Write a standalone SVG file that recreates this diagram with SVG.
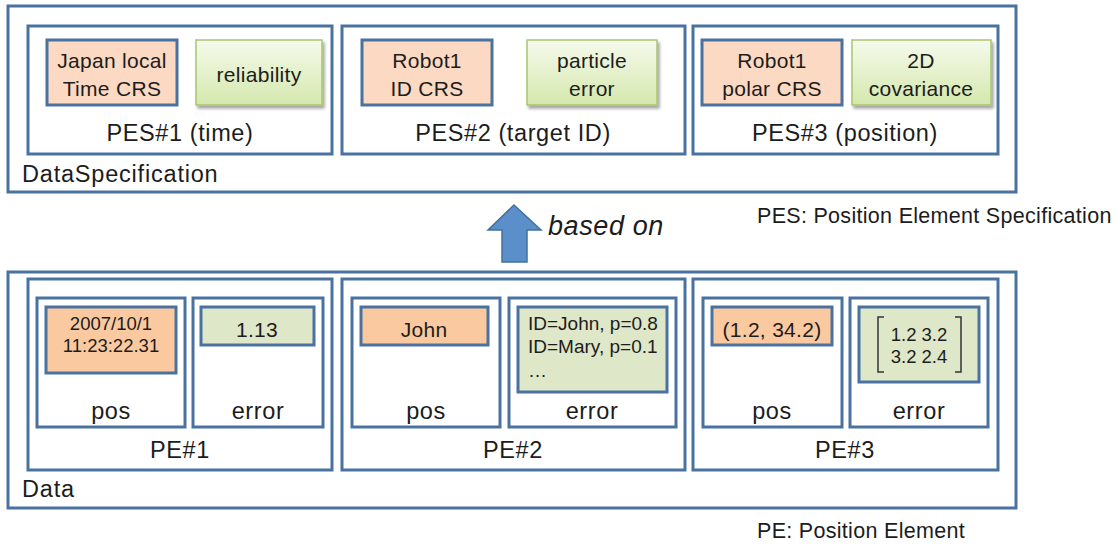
<svg xmlns="http://www.w3.org/2000/svg" width="1117" height="549" viewBox="0 0 1117 549">
  <style>
    .frame { fill: #ffffff; stroke: #4a72a0; stroke-width: 3; }
    .crs { fill: #fcd9c2; stroke: #4a72a0; stroke-width: 3; }
    .err { fill: url(#greenGrad); stroke: #a8c66c; stroke-width: 1.5; filter: url(#shadow); }
    .val { fill: #fac99f; stroke: #4a72a0; stroke-width: 3; }
    .valg { fill: #dfe7c9; stroke: #4a72a0; stroke-width: 3; }
    text { font-family: "Liberation Sans", Arial, sans-serif; fill: #1c1c1c; }
    .lbl { font-size: 23.5px; text-anchor: middle; letter-spacing: 0.6px; }
    .title { font-size: 23.5px; letter-spacing: 0.8px; }
    .in { font-size: 21px; text-anchor: middle; letter-spacing: 0.3px; }
    .sm { font-size: 18.5px; letter-spacing: 0; }
    .note { font-size: 21.5px; letter-spacing: 0.3px; }
  </style>
  <defs>
    <linearGradient id="greenGrad" x1="0" y1="0" x2="0" y2="1">
      <stop offset="0" stop-color="#f5faec"/>
      <stop offset="1" stop-color="#d5e8ad"/>
    </linearGradient>
    <filter id="shadow" x="-10%" y="-10%" width="125%" height="130%">
      <feDropShadow dx="2" dy="3" stdDeviation="1.8" flood-color="#000" flood-opacity="0.35"/>
    </filter>
  </defs>

  <!-- Specification side -->
  <g id="dataSpecification">
    <rect class="frame" x="8" y="6" width="1008" height="186"/>
    <text class="title" x="22" y="182">DataSpecification</text>
  </g>
  <g id="pes1">
    <rect class="frame" x="28" y="26" width="304" height="128"/>
    <rect class="crs" x="47" y="40" width="130" height="65"/>
    <text class="in" x="112" y="68">Japan local</text>
    <text class="in" x="112" y="96">Time CRS</text>
    <rect class="err" x="196" y="40" width="126" height="65"/>
    <text class="in" x="259" y="82">reliability</text>
    <text class="lbl" x="180" y="141">PES#1 (time)</text>
  </g>
  <g id="pes2">
    <rect class="frame" x="342" y="26" width="343" height="128"/>
    <rect class="crs" x="362" y="40" width="130" height="65"/>
    <text class="in" x="427" y="68">Robot1</text>
    <text class="in" x="427" y="96">ID CRS</text>
    <rect class="err" x="527" y="40" width="130" height="65"/>
    <text class="in" x="592" y="68">particle</text>
    <text class="in" x="592" y="96">error</text>
    <text class="lbl" x="513" y="141">PES#2 (target ID)</text>
  </g>
  <g id="pes3">
    <rect class="frame" x="693" y="26" width="305" height="128"/>
    <rect class="crs" x="702" y="40" width="140" height="65"/>
    <text class="in" x="772" y="68">Robot1</text>
    <text class="in" x="772" y="96">polar CRS</text>
    <rect class="err" x="852" y="40" width="139" height="65"/>
    <text class="in" x="921" y="68">2D</text>
    <text class="in" x="921" y="96">covariance</text>
    <text class="lbl" x="845" y="141">PES#3 (position)</text>
  </g>
  <g id="pesNote">
    <text class="note" x="757" y="223">PES: Position Element Specification</text>
  </g>

  <!-- Relation between data and its specification -->
  <g id="connectors">
    <polygon points="514,205 541,230 527,230 527,262 502,262 502,230 488,230" fill="#5b8fc9" stroke="#41719c" stroke-width="1.5" stroke-linejoin="miter"/>
    <text x="548" y="235" style="font-size:27px;font-style:italic;letter-spacing:0.6px">based on</text>
  </g>

  <!-- Data side -->
  <g id="data">
    <rect class="frame" x="8" y="272" width="1008" height="236"/>
    <text class="title" x="22" y="497">Data</text>
  </g>
  <g id="pe1">
    <rect class="frame" x="28" y="279" width="304" height="191"/>
    <rect class="frame" x="37" y="298" width="148" height="129"/>
    <rect class="val" x="46" y="307" width="130" height="66"/>
    <text class="in sm" x="111" y="330">2007/10/1</text>
    <text class="in sm" x="111" y="352">11:23:22.31</text>
    <text class="lbl" x="111" y="419">pos</text>
    <rect class="frame" x="193" y="298" width="130" height="129"/>
    <rect class="valg" x="201" y="307" width="113" height="38"/>
    <text class="in" x="257" y="337">1.13</text>
    <text class="lbl" x="258" y="419">error</text>
    <text class="lbl" x="180" y="458">PE#1</text>
  </g>
  <g id="pe2">
    <rect class="frame" x="342" y="279" width="343" height="191"/>
    <rect class="frame" x="352" y="298" width="148" height="129"/>
    <rect class="val" x="361" y="307" width="127" height="38"/>
    <text class="in" x="424" y="337">John</text>
    <text class="lbl" x="426" y="419">pos</text>
    <rect class="frame" x="509" y="298" width="167" height="129"/>
    <rect class="valg" x="518" y="307" width="149" height="85"/>
    <text x="528" y="330" style="font-size:19px">ID=John, p=0.8</text>
    <text x="528" y="353" style="font-size:19px">ID=Mary, p=0.1</text>
    <text x="528" y="377" style="font-size:19px">…</text>
    <text class="lbl" x="592" y="419">error</text>
    <text class="lbl" x="513" y="458">PE#2</text>
  </g>
  <g id="pe3">
    <rect class="frame" x="693" y="279" width="305" height="191"/>
    <rect class="frame" x="703" y="298" width="139" height="129"/>
    <rect class="val" x="712" y="307" width="120" height="38"/>
    <text class="in" x="772" y="337">(1.2, 34.2)</text>
    <text class="lbl" x="772" y="419">pos</text>
    <rect class="frame" x="850" y="298" width="138" height="129"/>
    <rect class="valg" x="859" y="307" width="120" height="75"/>
    <path d="M884,317 H878 V372 H884 M955,317 H961 V372 H955" fill="none" stroke="#333" stroke-width="1.5"/>
    <text class="in sm" x="919" y="341">1.2 3.2</text>
    <text class="in sm" x="919" y="363">3.2 2.4</text>
    <text class="lbl" x="919" y="419">error</text>
    <text class="lbl" x="845" y="458">PE#3</text>
  </g>
  <g id="peNote">
    <text class="note" x="757" y="538">PE: Position Element</text>
  </g>
</svg>
